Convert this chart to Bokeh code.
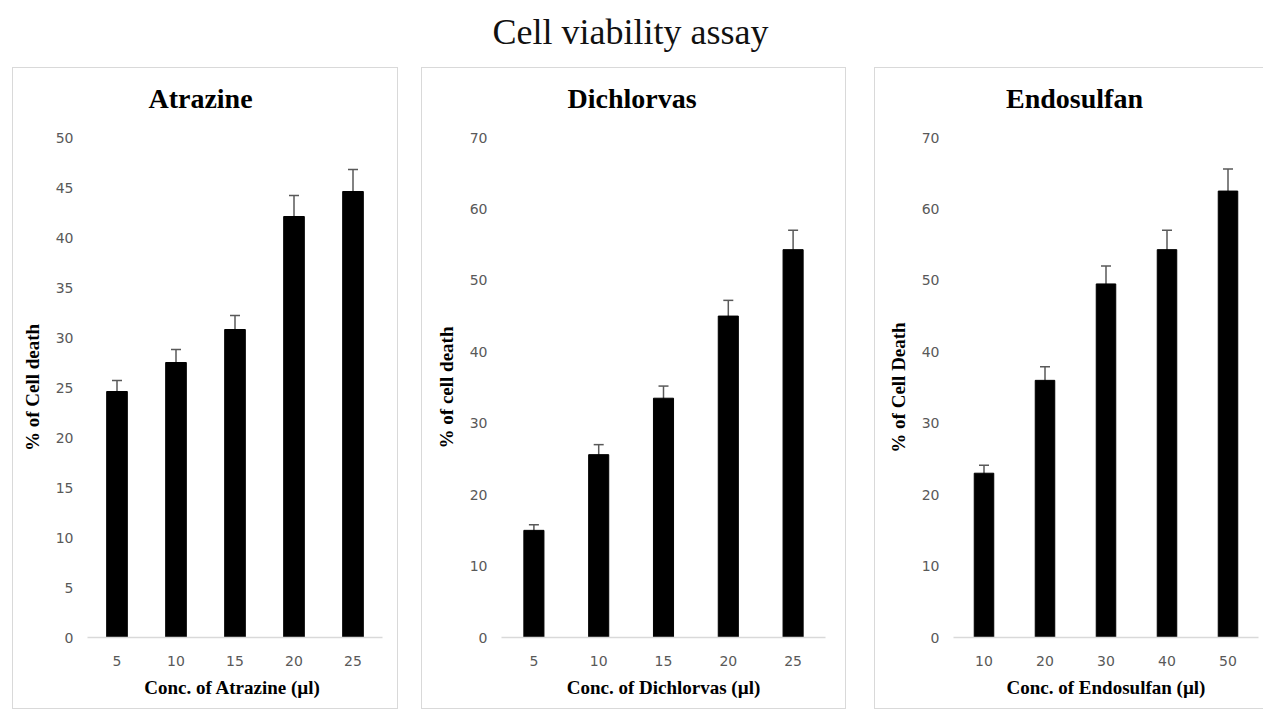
from bokeh.plotting import figure
from bokeh.models import (ColumnDataSource, Range1d, FactorRange, Whisker, TeeHead,
                          Label, Spacer, SingleIntervalTicker)
from bokeh.layouts import column, row
from bokeh.embed import file_html
from bokeh.resources import INLINE

# ---------------- data ----------------
main_title = "Cell viability assay"

atrazine_conc = ["5", "10", "15", "20", "25"]
atrazine_death = [24.6, 27.5, 30.8, 42.1, 44.6]
atrazine_err = [1.1, 1.3, 1.4, 2.1, 2.2]

dichlorvas_conc = ["5", "10", "15", "20", "25"]
dichlorvas_death = [15.0, 25.6, 33.5, 45.0, 54.3]
dichlorvas_err = [0.8, 1.4, 1.7, 2.2, 2.7]

endosulfan_conc = ["10", "20", "30", "40", "50"]
endosulfan_death = [23.0, 36.0, 49.5, 54.3, 62.5]
endosulfan_err = [1.1, 1.9, 2.5, 2.7, 3.1]

SERIF = "Liberation Serif"
SANS = "DejaVu Sans"
TICK_COLOR = "#595959"
BORDER = "#d9d9d9"

TITLE_H = 50
CHART_H = 590


def strip(width, height, text, tx, ty, size, style="normal", color="black",
          mb_left=0, mb_right=0):
    # x range expressed in canvas pixels so that frame alignment inside a
    # column does not move the label
    s = figure(width=width, height=height, x_range=Range1d(mb_left, width - mb_right),
               y_range=Range1d(0, height), toolbar_location=None,
               output_backend="svg", min_border=0,
               min_border_left=mb_left, min_border_right=mb_right)
    s.axis.visible = False
    s.grid.grid_line_color = None
    s.outline_line_color = None
    s.add_layout(Label(x=tx, y=ty, text=text, text_align="center",
                       text_baseline="middle", text_font=SERIF,
                       text_font_style=style, text_font_size=size,
                       text_color=color))
    return s


def panel(title, conc, vals, errs, xlabel, ylabel, ymax, ystep, width,
          mb_left, mb_right, bar_w, right_border=True, title_dx=0):
    src = ColumnDataSource(dict(
        x=conc, y=vals,
        upper=[v + e for v, e in zip(vals, errs)],
        lower=[v - e for v, e in zip(vals, errs)],
    ))
    p = figure(width=width, height=CHART_H, x_range=FactorRange(*conc, range_padding=0),
               y_range=Range1d(0, ymax), toolbar_location=None, output_backend="svg",
               min_border_left=mb_left, min_border_right=mb_right,
               min_border_top=19, min_border_bottom=71)
    p.vbar(x="x", top="y", width=bar_w, source=src, fill_color="black",
           line_color="black")
    w = Whisker(source=src, base="x", upper="upper", lower="lower",
                line_color=TICK_COLOR, line_width=1.5,
                upper_head=TeeHead(size=10, line_color=TICK_COLOR, line_width=1.5),
                lower_head=TeeHead(size=10, line_color=TICK_COLOR, line_width=1.5))
    p.add_layout(w)

    p.outline_line_color = None
    p.xgrid.grid_line_color = None
    p.ygrid.grid_line_color = None

    p.yaxis.ticker = SingleIntervalTicker(interval=ystep)
    p.yaxis.axis_line_color = None
    p.yaxis.major_tick_line_color = None
    p.yaxis.minor_tick_line_color = None
    p.yaxis.major_label_text_font = SANS
    p.yaxis.major_label_text_font_size = "14px"
    p.yaxis.major_label_text_color = TICK_COLOR
    p.yaxis.major_label_standoff = 8
    p.yaxis.axis_label = ylabel
    p.yaxis.axis_label_text_font = SERIF
    p.yaxis.axis_label_text_font_style = "bold"
    p.yaxis.axis_label_text_font_size = "19px"
    p.yaxis.axis_label_text_color = "black"
    p.yaxis.axis_label_standoff = 10

    p.xaxis.axis_line_color = BORDER
    p.xaxis.axis_line_width = 1.5
    p.xaxis.major_tick_line_color = None
    p.xaxis.minor_tick_line_color = None
    p.xaxis.major_label_text_font = SANS
    p.xaxis.major_label_text_font_size = "14px"
    p.xaxis.major_label_text_color = TICK_COLOR
    p.xaxis.major_label_standoff = 12
    p.xaxis.axis_label = xlabel
    p.xaxis.axis_label_text_font = SERIF
    p.xaxis.axis_label_text_font_style = "bold"
    p.xaxis.axis_label_text_font_size = "19px"
    p.xaxis.axis_label_text_color = "black"
    p.xaxis.axis_label_standoff = 8

    t = strip(width, TITLE_H, title, width / 2 + title_dx, 20, "28px", "bold",
              mb_left=mb_left, mb_right=mb_right)

    border_style = {"border": f"1px solid {BORDER}"}
    if not right_border:
        border_style = {"border-top": f"1px solid {BORDER}",
                        "border-left": f"1px solid {BORDER}",
                        "border-bottom": f"1px solid {BORDER}"}
    return column(t, p, spacing=0, styles=border_style)


p1 = panel("Atrazine", atrazine_conc, atrazine_death, atrazine_err,
           "Conc. of  Atrazine (µl)", "% of Cell death", 50, 5, 384, 74, 15, 0.35,
           title_dx=-5)
p2 = panel("Dichlorvas", dichlorvas_conc, dichlorvas_death, dichlorvas_err,
           "Conc. of Dichlorvas (µl)", "% of cell death", 70, 10, 423, 79, 20, 0.31,
           title_dx=-2)
p3 = panel("Endosulfan", endosulfan_conc, endosulfan_death, endosulfan_err,
           "Conc. of Endosulfan (µl)", "% of Cell Death", 70, 10, 388, 78, 5, 0.32,
           right_border=False, title_dx=5)

# main title as its own strip
pt = strip(1266, 67, main_title, 630, 36, "36px", "normal", "#111111")

layout = column(pt, row(Spacer(width=12), p1, Spacer(width=23), p2, Spacer(width=28), p3,
                        spacing=0), spacing=0)

open("out.html", "w").write(file_html(layout, INLINE))
